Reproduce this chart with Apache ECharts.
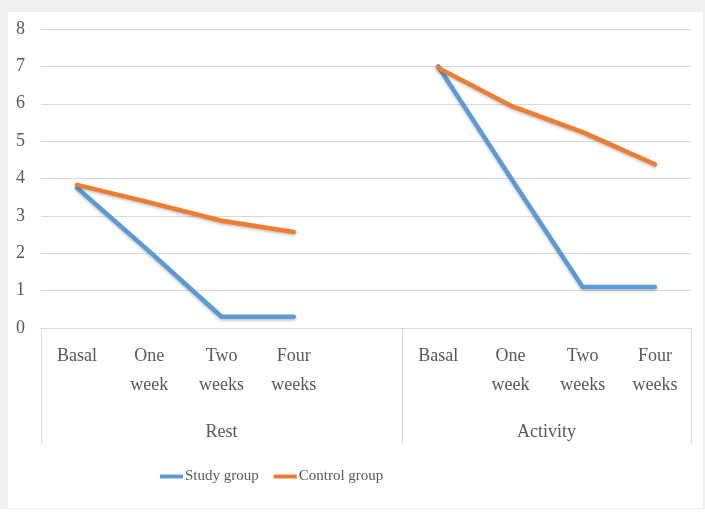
<!DOCTYPE html>
<html>
<head>
<meta charset="utf-8">
<script src="https://cdn.jsdelivr.net/npm/echarts@6/dist/echarts.min.js"></script>
<style>
  html, body { margin: 0; padding: 0; width: 705px; height: 516px; background: #ffffff; overflow: hidden; }
  #frame { position: absolute; left: 0; top: 0; width: 705px; height: 509px; background: #eef0f2; }
  #panel { position: absolute; left: 8px; top: 12px; width: 695px; height: 496px; background: #ffffff; }
  #chart { width: 695px; height: 496px; }
</style>
</head>
<body>
<div id="frame"></div>
<div id="panel"><div id="chart"></div></div>
<script>
// Time points measured in each condition
const timeLabels = ['Basal', 'One\nweek', 'Two\nweeks', 'Four\nweeks'];
// Condition groups shown under the time points
const groupLabels = ['Rest', 'Activity'];

// Scores per time point
const studyRest = [3.75, 2.05, 0.3, 0.3];
const studyActivity = [7.0, 4.03, 1.1, 1.1];
const controlRest = [3.83, 3.36, 2.87, 2.57];
const controlActivity = [6.96, 5.95, 5.24, 4.38];

// Y axis ticks
const yTicks = [0, 1, 2, 3, 4, 5, 6, 7, 8];

// One empty slot separates the two groups on the category axis
const categories = timeLabels.concat(['']).concat(timeLabels);
const studyData = studyRest.concat([null]).concat(studyActivity);
const controlData = controlRest.concat([null]).concat(controlActivity);

// Group spans along the category axis, in slot units
const restSpan = [0, timeLabels.length + 1];
const activitySpan = [timeLabels.length + 1, categories.length];
const groupCenters = [(restSpan[0] + restSpan[1]) / 2, (activitySpan[0] + activitySpan[1]) / 2];

const FONT = '"Liberation Serif", "Times New Roman", serif';
const TEXT = '#595959';
const GRIDLINE = '#d9d9d9';

const chart = echarts.init(document.getElementById('chart'), null, { renderer: 'canvas' });

chart.setOption({
  animation: false,
  backgroundColor: '#ffffff',
  textStyle: { fontFamily: FONT, color: TEXT },
  grid: { left: 33, right: 12, top: 17, bottom: 180 },
  legend: {
    left: 152,
    top: 457,
    padding: 0,
    icon: 'rect',
    itemWidth: 23,
    itemHeight: 4,
    itemGap: 15,
    textStyle: { fontFamily: FONT, fontSize: 15, color: TEXT, padding: [0, 0, 0, -3] },
    data: ['Study group', 'Control group']
  },
  xAxis: [
    {
      type: 'category',
      data: categories,
      boundaryGap: true,
      axisLine: { show: true, lineStyle: { color: GRIDLINE, width: 1 } },
      axisTick: { show: false },
      axisLabel: {
        interval: 0,
        margin: 14,
        fontFamily: FONT,
        fontSize: 18,
        color: TEXT,
        lineHeight: 29
      },
      splitLine: { show: false }
    },
    {
      type: 'value',
      position: 'bottom',
      min: 0,
      max: categories.length,
      axisLine: { show: false },
      axisTick: {
        show: true,
        inside: false,
        length: 116,
        customValues: [restSpan[0], activitySpan[0], activitySpan[1]],
        lineStyle: { color: GRIDLINE, width: 1 }
      },
      axisLabel: {
        show: true,
        margin: 95,
        fontFamily: FONT,
        fontSize: 18,
        color: TEXT,
        customValues: groupCenters,
        formatter: function (v) {
          return Math.abs(v - groupCenters[0]) < 1e-6 ? groupLabels[0] : groupLabels[1];
        }
      },
      splitLine: { show: false }
    }
  ],
  yAxis: {
    type: 'value',
    min: yTicks[0],
    max: yTicks[yTicks.length - 1],
    interval: 1,
    axisLine: { show: false },
    axisTick: { show: false },
    axisLabel: { margin: 16, fontFamily: FONT, fontSize: 18, color: TEXT },
    splitLine: { show: true, lineStyle: { color: GRIDLINE, width: 1 } }
  },
  series: [
    {
      name: 'Study group',
      type: 'line',
      xAxisIndex: 0,
      data: studyData,
      symbol: 'none',
      connectNulls: false,
      color: '#5b9bd5',
      lineStyle: {
        width: 4.5, color: '#5b9bd5', cap: 'round', join: 'round',
        shadowColor: 'rgba(0,0,0,0.25)', shadowBlur: 3, shadowOffsetY: 1.5
      }
    },
    {
      name: 'Control group',
      type: 'line',
      xAxisIndex: 0,
      data: controlData,
      symbol: 'none',
      connectNulls: false,
      color: '#ed7d31',
      lineStyle: {
        width: 4.5, color: '#ed7d31', cap: 'round', join: 'round',
        shadowColor: 'rgba(0,0,0,0.25)', shadowBlur: 3, shadowOffsetY: 1.5
      }
    }
  ]
});
</script>
</body>
</html>
